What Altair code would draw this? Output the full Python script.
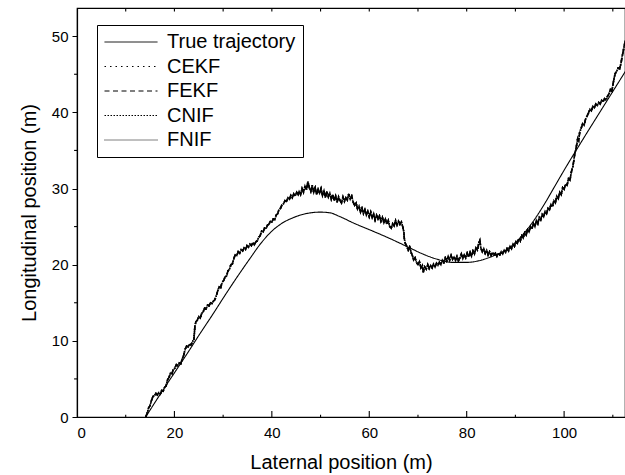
import altair as alt
import pandas as pd

FONT = "Liberation Sans"

series_names = ["True trajectory", "CEKF", "FEKF", "CNIF", "FNIF"]
dash_styles = [[1, 0], [1.5, 4], [5, 3.5], [1.5, 1.5], [1, 1]]

true_x = [14.1, 17, 20, 23, 25, 28, 30, 33, 35.5, 37.5, 40, 42, 44.5, 47, 50, 52, 54, 57,
          60, 64, 68, 71, 74, 77, 80, 83, 86, 88, 90, 92, 94, 96, 98, 100, 104, 108, 112.6]
true_y = [0, 2.9, 5.8, 8.7, 10.7, 13.6, 15.6, 18.5, 20.8, 22.6, 24.4, 25.4, 26.2, 26.7, 26.9, 26.8, 26.3, 25.4,
          24.6, 23.5, 22.3, 21.4, 20.7, 20.3, 20.3, 20.6, 21.3, 21.9, 22.9, 24.3, 26.0, 28.0, 30.2, 32.4, 36.6, 40.7, 45.4]

# estimated trajectory (the four filters overlap almost exactly)
est_points = [
    (14.1, 0.0), (14.4, 0.5), (14.7, 1.2), (15.0, 1.5), (15.3, 2.2), (15.6, 2.7), (15.9, 2.8), (16.2, 3.1),
    (16.5, 2.9), (16.8, 3.2), (17.1, 3.0), (17.4, 3.5), (17.7, 3.4), (18.0, 3.9), (18.3, 4.1), (18.6, 4.9),
    (18.9, 5.2), (19.2, 5.8), (19.5, 5.7), (19.8, 6.3), (20.1, 6.4), (20.4, 6.9), (20.7, 6.7), (21.0, 7.1),
    (21.3, 7.0), (21.6, 7.6), (21.9, 8.1), (22.2, 8.9), (22.5, 9.3), (22.8, 9.2), (23.1, 9.6), (23.4, 9.4),
    (23.7, 9.9), (24.0, 10.2), (24.1, 11.0), (24.2, 11.9), (24.4, 12.5), (24.7, 12.7), (25.0, 13.2), (25.3, 13.0),
    (25.6, 13.6), (25.9, 13.8), (26.2, 14.3), (26.5, 14.2), (26.8, 14.7), (27.1, 14.6), (27.4, 15.0), (27.7, 14.9),
    (28.0, 15.2), (28.3, 15.4), (28.6, 15.9), (28.9, 16.6), (29.2, 17.1), (29.5, 17.0), (29.8, 17.7), (30.1, 17.9),
    (30.4, 18.4), (30.7, 18.5), (31.0, 19.2), (31.3, 19.4), (31.6, 20.0), (31.9, 20.1), (32.2, 20.8), (32.5, 21.3),
    (32.8, 21.2), (33.1, 21.7), (33.4, 21.5), (33.7, 22.0), (34.0, 21.8), (34.3, 22.2), (34.6, 22.0), (34.9, 22.5),
    (35.2, 22.3), (35.5, 22.7), (35.8, 22.5), (36.1, 22.9), (36.4, 22.6), (36.7, 23.0), (37.0, 23.1), (37.3, 23.6),
    (37.6, 23.8), (37.9, 24.4), (38.2, 24.3), (38.5, 24.8), (38.8, 24.7), (39.1, 25.2), (39.4, 25.3), (39.7, 25.7),
    (40.0, 25.6), (40.3, 26.0), (40.6, 25.9), (40.9, 26.5), (41.2, 26.7), (41.5, 27.3), (41.8, 27.4), (42.1, 27.9),
    (42.4, 28.0), (42.7, 28.4), (43.0, 28.3), (43.3, 28.8), (43.6, 28.6), (43.9, 29.1), (44.2, 28.8), (44.5, 29.3),
    (44.8, 29.0), (45.1, 29.5), (45.4, 29.2), (45.6, 29.6), (45.9, 29.2), (46.2, 30.0), (46.5, 29.5), (46.8, 30.3),
    (47.1, 29.8), (47.4, 30.9), (47.7, 30.1), (48.0, 29.6), (48.3, 30.4), (48.6, 29.5), (48.9, 30.1), (49.2, 29.2),
    (49.5, 29.9), (49.8, 29.4), (50.1, 30.0), (50.4, 29.1), (50.7, 29.7), (51.0, 28.8), (51.3, 29.6), (51.6, 28.9),
    (51.9, 29.4), (52.2, 28.6), (52.5, 29.2), (52.8, 28.4), (53.1, 29.0), (53.4, 28.2), (53.7, 28.9), (54.0, 28.4),
    (54.3, 28.1), (54.6, 28.9), (54.9, 28.3), (55.2, 28.8), (55.5, 28.5), (55.8, 29.3), (56.1, 28.6), (56.4, 29.0),
    (56.7, 28.2), (57.0, 27.8), (57.3, 28.1), (57.6, 27.3), (57.9, 27.7), (58.2, 26.9), (58.5, 27.4), (58.8, 26.7),
    (59.1, 27.2), (59.4, 26.5), (59.7, 27.0), (60.0, 26.3), (60.3, 26.9), (60.6, 26.2), (60.9, 26.7), (61.2, 25.9),
    (61.5, 26.5), (61.8, 26.0), (62.1, 26.4), (62.4, 25.7), (62.7, 26.2), (63.0, 25.5), (63.3, 26.0), (63.6, 25.3),
    (63.9, 25.8), (64.2, 25.0), (64.5, 24.8), (64.8, 25.4), (65.1, 25.1), (65.4, 25.8), (65.7, 25.2), (66.0, 25.7),
    (66.3, 25.3), (66.6, 25.6), (66.9, 24.9), (67.1, 24.3), (67.2, 23.4), (67.4, 22.8), (67.7, 22.4), (68.0, 21.9),
    (68.3, 22.3), (68.6, 21.6), (68.9, 21.1), (69.1, 20.6), (69.4, 20.9), (69.7, 20.3), (70.0, 20.0), (70.3, 20.4),
    (70.6, 19.6), (70.9, 19.9), (71.1, 19.0), (71.4, 19.7), (71.7, 19.4), (72.0, 20.0), (72.3, 19.5), (72.6, 19.9),
    (72.9, 19.6), (73.2, 20.1), (73.5, 19.7), (73.8, 20.2), (74.1, 19.9), (74.4, 20.3), (74.7, 20.0), (75.0, 20.6),
    (75.3, 20.3), (75.6, 20.9), (75.9, 20.5), (76.2, 21.1), (76.5, 20.6), (76.8, 21.2), (77.1, 20.7), (77.4, 21.0),
    (77.7, 20.6), (78.0, 21.1), (78.3, 20.5), (78.6, 20.9), (78.9, 21.4), (79.2, 20.8), (79.5, 21.3), (79.8, 20.9),
    (80.1, 21.5), (80.4, 21.0), (80.7, 21.6), (81.0, 21.1), (81.3, 21.8), (81.6, 21.4), (81.9, 22.2), (82.2, 21.9),
    (82.5, 22.9), (82.7, 23.2), (82.9, 22.2), (83.2, 21.7), (83.5, 22.1), (83.8, 21.5), (84.1, 21.9), (84.4, 21.3),
    (84.7, 21.7), (85.0, 21.2), (85.3, 21.6), (85.6, 21.3), (85.9, 21.5), (86.2, 21.1), (86.5, 21.5), (86.8, 21.3),
    (87.1, 21.7), (87.4, 21.4), (87.7, 21.9), (88.0, 21.6), (88.3, 22.1), (88.6, 21.8), (88.9, 22.4), (89.2, 22.1),
    (89.5, 22.7), (89.8, 22.4), (90.1, 23.0), (90.4, 22.8), (90.7, 23.4), (91.0, 23.1), (91.3, 23.8), (91.6, 23.5),
    (91.9, 24.2), (92.2, 23.9), (92.5, 24.6), (92.8, 24.3), (93.1, 25.0), (93.4, 24.7), (93.7, 25.4), (94.0, 25.0),
    (94.3, 25.8), (94.6, 25.4), (94.9, 26.2), (95.2, 25.9), (95.5, 26.6), (95.8, 26.3), (96.1, 27.0), (96.4, 26.7),
    (96.7, 27.4), (97.0, 27.2), (97.3, 27.9), (97.6, 27.6), (97.9, 28.4), (98.2, 28.1), (98.5, 29.0), (98.8, 28.7),
    (99.1, 29.5), (99.4, 29.2), (99.7, 30.1), (100.0, 29.9), (100.3, 30.6), (100.6, 30.4), (100.9, 31.3), (101.2, 31.1),
    (101.5, 32.2), (101.8, 32.9), (102.0, 33.7), (102.2, 34.6), (102.4, 35.1), (102.6, 35.8), (102.8, 36.6), (103.0, 36.3),
    (103.2, 37.4), (103.5, 37.9), (103.8, 38.5), (104.1, 38.3), (104.4, 39.1), (104.7, 39.5), (105.0, 39.9), (105.3, 40.4),
    (105.6, 40.2), (105.9, 40.8), (106.2, 40.6), (106.5, 41.1), (106.8, 40.9), (107.1, 41.3), (107.4, 41.1), (107.7, 41.6),
    (108.0, 41.4), (108.3, 41.8), (108.6, 41.6), (108.9, 42.1), (109.2, 42.4), (109.5, 43.0), (109.8, 42.8), (110.1, 43.9),
    (110.3, 44.6), (110.5, 45.1), (110.8, 45.4), (111.1, 45.8), (111.4, 45.7), (111.7, 46.5), (111.9, 47.3), (112.1, 47.9),
    (112.3, 48.6), (112.5, 49.2), (112.7, 49.6),
]

X_MAX, Y_MAX = 112.5, 53.7
x_major = [0, 20, 40, 60, 80, 100]
x_top_ticks = [10, 20, 30, 40, 50, 60, 70, 80, 90, 100, 110]
x_minor_bottom = [10, 30, 50, 70, 90, 110]
y_major = [0, 10, 20, 30, 40, 50]
y_minor = [5, 15, 25, 35, 45]

rows = []
for i, (x, y) in enumerate(zip(true_x, true_y)):
    rows.append({"series": series_names[0], "x": x, "y": y, "i": i})
for name in series_names[1:]:
    for i, (x, y) in enumerate(est_points):
        rows.append({"series": name, "x": x, "y": y, "i": i})
df = pd.DataFrame(rows)

# frame ticks built from the tick lists
frame_rows = [{"x": t, "y": Y_MAX, "x2": t, "y2": Y_MAX - 0.45} for t in x_top_ticks]
frame_rows += [{"x": t, "y": 0, "x2": t, "y2": 0.8} for t in x_major[1:]]
frame_rows += [{"x": t, "y": 0, "x2": t, "y2": 0.3} for t in x_minor_bottom]
frame_rows += [{"x": 0, "y": t, "x2": -0.6, "y2": t} for t in y_minor]
frame = pd.DataFrame(frame_rows)

W, H = 548, 409
xs = alt.Scale(domain=[0, X_MAX], nice=False, zero=False)
ys = alt.Scale(domain=[0, Y_MAX], nice=False, zero=False)
dash_scale = alt.Scale(domain=series_names, range=dash_styles)
widths = [1.1, 1.6, 1.6, 1.6, 1.6]

legend = alt.Legend(
    title=None, orient="none", legendX=20, legendY=17, direction="vertical",
    symbolType="stroke", symbolSize=2809, symbolStrokeWidth=1, symbolStrokeColor="black",
    labelFont=FONT, labelFontSize=20, labelColor="black", labelOffset=9, labelLimit=400,
    strokeColor="black", fillColor="white", padding=7, rowPadding=4.5, clipHeight=20,
)

x_axis = alt.Axis(orient="bottom", values=x_major, ticks=False, domain=True,
                  labelPadding=8, title="Laternal position (m)", titlePadding=12, titleX=264)
y_axis = alt.Axis(orient="left", values=y_major, tickSize=5, domain=True,
                  labelPadding=4, title="Longitudinal position (m)", titlePadding=12)

frame_layer = alt.Chart(frame).mark_rule(color="black", strokeWidth=1.1).encode(
    x=alt.X("x:Q", scale=xs, axis=x_axis),
    y=alt.Y("y:Q", scale=ys, axis=y_axis),
    x2="x2:Q",
    y2="y2:Q",
)

layers = [frame_layer]
for k, name in enumerate(series_names):
    layers.append(
        alt.Chart(df).transform_filter(alt.datum.series == name).mark_line(
            color="black", strokeWidth=widths[k], clip=True,
            interpolate="monotone" if k == 0 else "linear",
        ).encode(
            x=alt.X("x:Q", scale=xs, axis=x_axis),
            y=alt.Y("y:Q", scale=ys, axis=y_axis),
            strokeDash=alt.StrokeDash("series:N", scale=dash_scale, legend=legend),
            order="i:Q",
        )
    )

chart = alt.layer(*layers).properties(
    width=W, height=H,
    autosize=alt.AutoSizeParams(type="none"),
    padding={"left": 77, "top": 8, "right": 0, "bottom": 58},
).configure_view(stroke="black", strokeWidth=1.2).configure_axis(
    grid=False, labelFont=FONT, titleFont=FONT, labelFontSize=15, titleFontSize=20,
    titleFontWeight="normal", labelColor="black", titleColor="black",
    domainColor="black", tickColor="black", domainWidth=1.2,
)

chart.save("out.html", embed_options={"renderer": "svg", "actions": False})
